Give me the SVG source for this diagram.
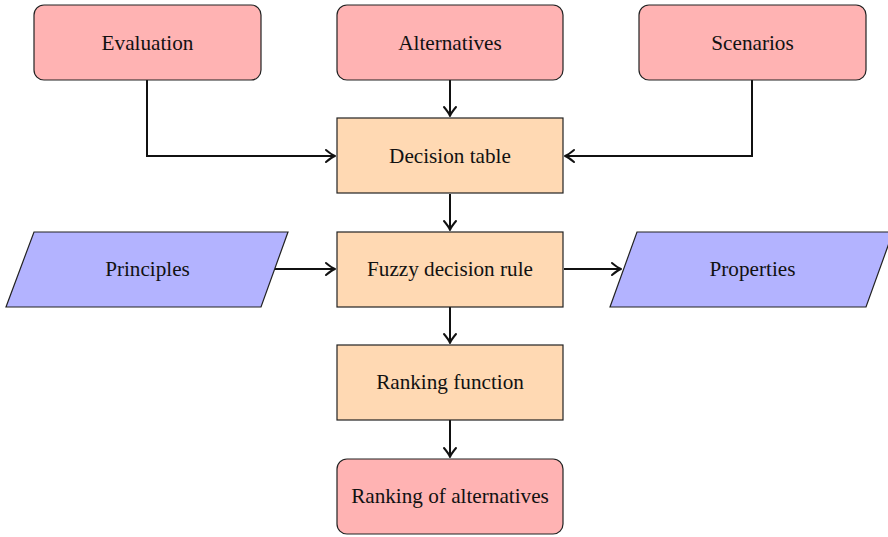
<svg xmlns="http://www.w3.org/2000/svg" width="888" height="537" viewBox="0 0 888 537">
<defs>
<style>
.red{fill:#FFB3B3;stroke:#222;stroke-width:1.2}
.org{fill:#FFD9B3;stroke:#222;stroke-width:1.2}
.blu{fill:#B3B3FF;stroke:#222;stroke-width:1.2}
text{font-family:"Liberation Serif","Times New Roman",serif;font-size:21.2px;fill:#111;text-anchor:middle}
.c{fill:none;stroke:#111;stroke-width:2}
</style>
<marker id="arr" markerUnits="userSpaceOnUse" viewBox="-12 -8 14 16" refX="0" refY="0" markerWidth="14" markerHeight="16" orient="auto">
<path d="M-9,-6 Q-3,-1 0,0 Q-3,1 -9,6" fill="none" stroke="#111" stroke-width="2" stroke-linecap="round" stroke-linejoin="round"/>
</marker>
</defs>
<rect width="888" height="537" fill="#fff"/>
<g id="connectors">
<path class="c" d="M147,80 V156 H335" marker-end="url(#arr)"/>
<path class="c" d="M450,80 V116" marker-end="url(#arr)"/>
<path class="c" d="M752,80 V156 H565" marker-end="url(#arr)"/>
<path class="c" d="M450,194 V230" marker-end="url(#arr)"/>
<path class="c" d="M275,269 H335" marker-end="url(#arr)"/>
<path class="c" d="M564,269 H621" marker-end="url(#arr)"/>
<path class="c" d="M450,307 V343" marker-end="url(#arr)"/>
<path class="c" d="M450,420 V457" marker-end="url(#arr)"/>
</g>
<g id="evaluation"><rect class="red" x="34" y="5" width="227" height="75" rx="10"/><text x="147.5" y="50">Evaluation</text></g>
<g id="alternatives"><rect class="red" x="337" y="5" width="226" height="75" rx="10"/><text x="450" y="50">Alternatives</text></g>
<g id="scenarios"><rect class="red" x="639" y="5" width="227" height="75" rx="10"/><text x="752.5" y="50">Scenarios</text></g>
<g id="decision-table"><rect class="org" x="337" y="118" width="226" height="75"/><text x="450" y="163">Decision table</text></g>
<g id="fuzzy-decision-rule"><rect class="org" x="337" y="232" width="226" height="75"/><text x="450" y="276">Fuzzy decision rule</text></g>
<g id="ranking-function"><rect class="org" x="337" y="345" width="226" height="75"/><text x="450" y="389">Ranking function</text></g>
<g id="ranking-of-alternatives"><rect class="red" x="337" y="459" width="226" height="75" rx="10"/><text x="450" y="503">Ranking of alternatives</text></g>
<g id="principles"><polygon class="blu" points="34,232 288,232 261,307 6,307"/><text x="147.5" y="276">Principles</text></g>
<g id="properties"><polygon class="blu" points="637,232 893,232 866,307 610,307"/><text x="752.5" y="276">Properties</text></g>
</svg>
